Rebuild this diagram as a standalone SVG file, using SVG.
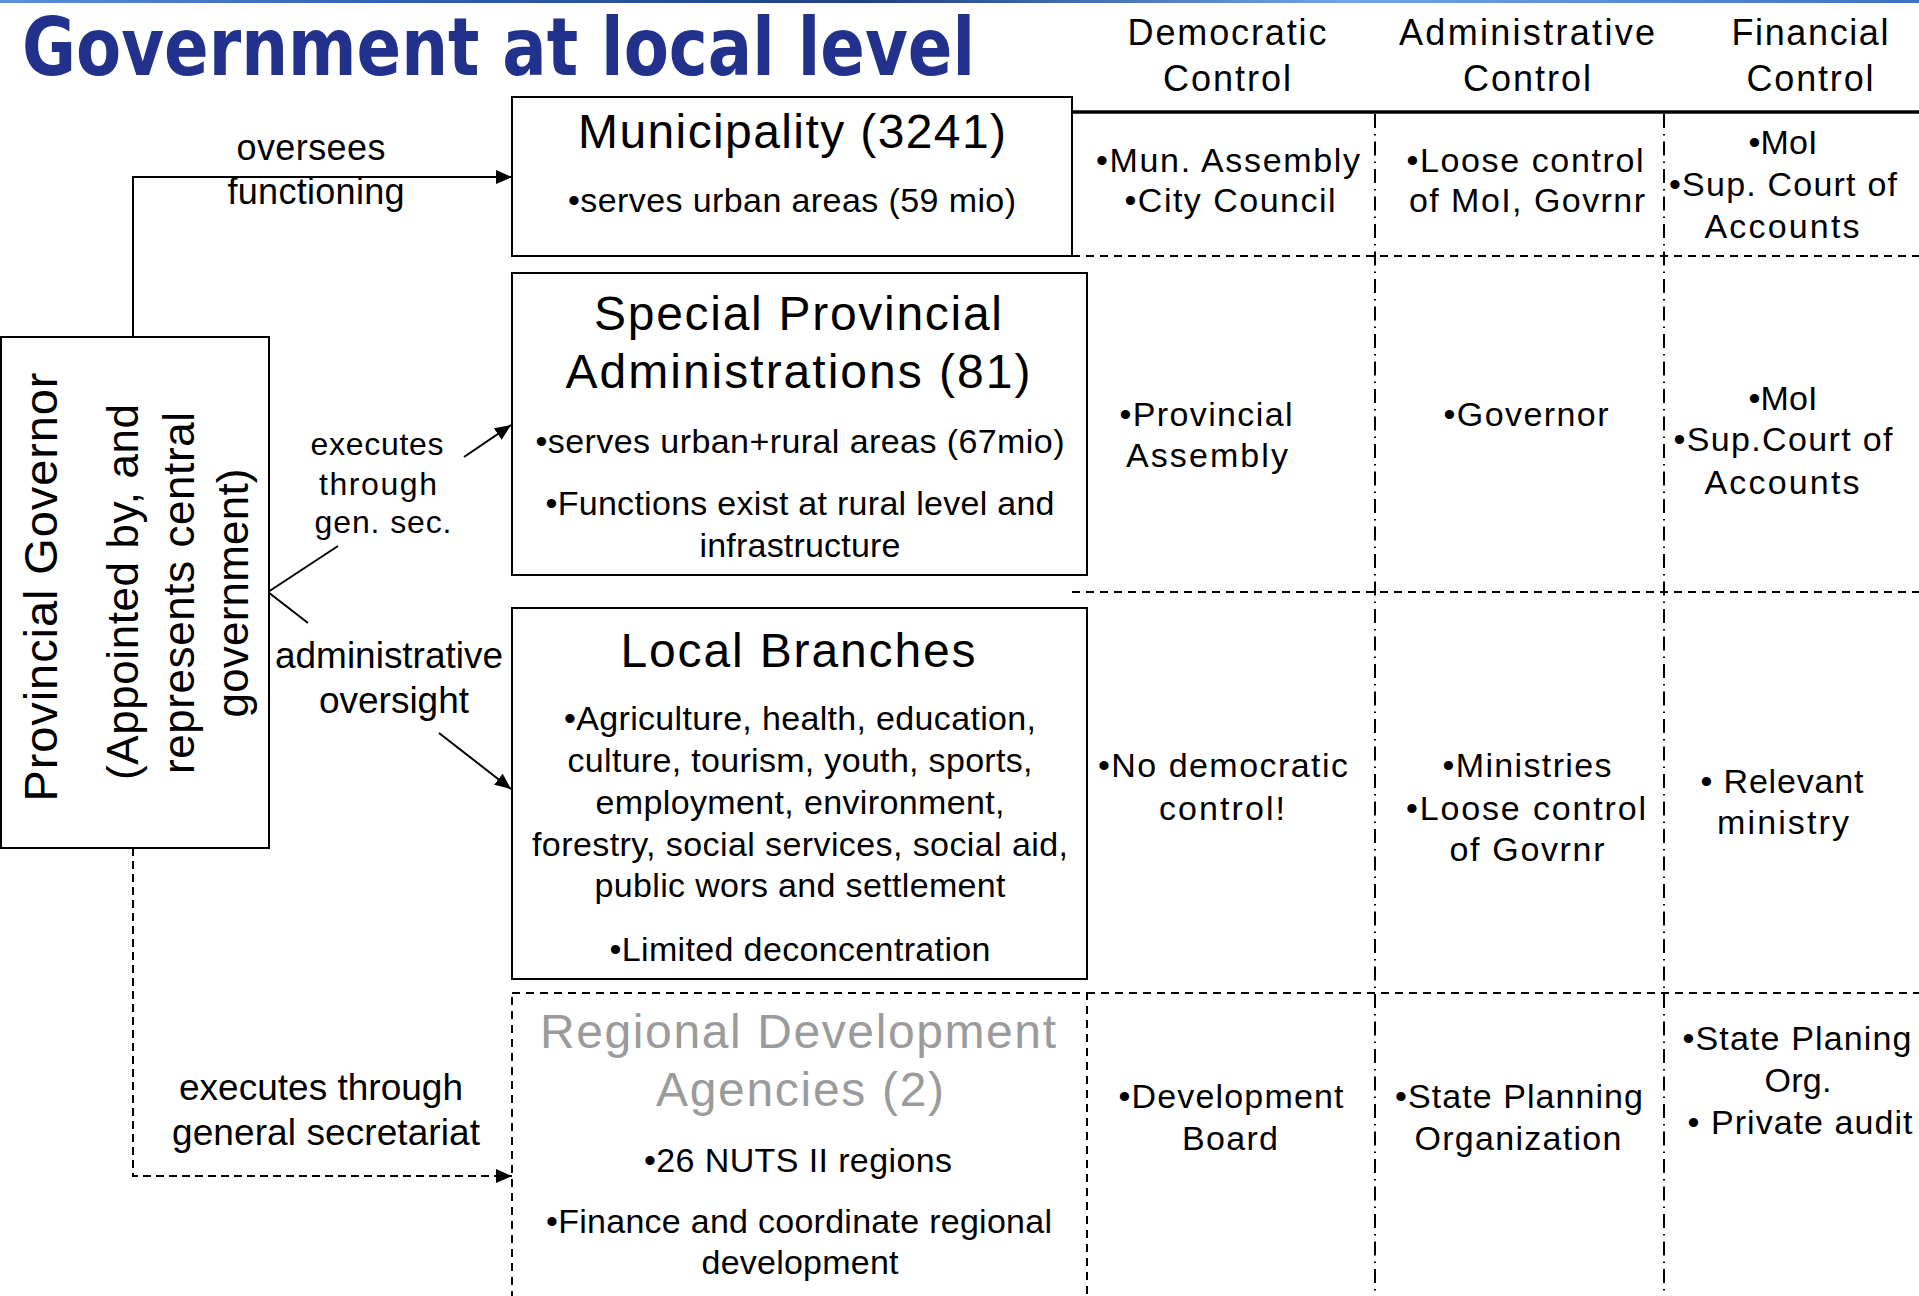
<svg xmlns="http://www.w3.org/2000/svg" width="1919" height="1296" viewBox="0 0 1919 1296">
<defs>
<linearGradient id="topbar" x1="0" y1="0" x2="1" y2="0">
<stop offset="0" stop-color="#5b8fe6"/>
<stop offset="0.2" stop-color="#2f5fc0"/>
<stop offset="0.45" stop-color="#1e3f8a"/>
<stop offset="0.7" stop-color="#6fa3f2"/>
<stop offset="1" stop-color="#3d6fcf"/>
</linearGradient>
<marker id="arr" viewBox="0 0 16 14" refX="16" refY="7" markerWidth="16" markerHeight="14" markerUnits="userSpaceOnUse" orient="auto">
<path d="M0,0 L16,7 L0,14 z" fill="#000"/>
</marker>
<style>
.t{font-family:"Liberation Sans",Arial,Helvetica,sans-serif;fill:#000;text-anchor:middle}
.hd{font-size:36px}
.h{font-size:48px}
.b{font-size:34px}
.l{font-size:36px}
.s{font-size:32px}
.g{fill:#9b9b9b}
.box{fill:#fff;stroke:#000;stroke-width:2}
.dbox{fill:none;stroke:#000;stroke-width:2;stroke-dasharray:8 6}
.conn{fill:none;stroke:#000;stroke-width:2}
.dconn{fill:none;stroke:#000;stroke-width:2;stroke-dasharray:8 5}
.hsolid{stroke:#000;stroke-width:3.5}
.hdash{stroke:#000;stroke-width:2;stroke-dasharray:8 6}
.vdash{stroke:#000;stroke-width:2;stroke-dasharray:14 6 1.5 6}
</style>
</defs>
<rect x="0" y="0" width="1919" height="1296" fill="#fff"/>
<rect x="0" y="0" width="1919" height="3" fill="url(#topbar)"/>
<text transform="translate(22,75) scale(0.8124,1)" x="0" y="0" font-family="'DejaVu Sans',Verdana,sans-serif" font-weight="bold" font-size="81" fill="#21318C" textLength="1173" lengthAdjust="spacingAndGlyphs">Government at local level</text>

<g id="table">
<line class="hsolid" x1="1072" y1="112" x2="1919" y2="112"/>
<line class="hdash" x1="1072" y1="256" x2="1919" y2="256"/>
<line class="hdash" x1="1072" y1="592" x2="1919" y2="592"/>
<line class="hdash" x1="1087" y1="993" x2="1919" y2="993"/>
<line class="vdash" x1="1375" y1="114" x2="1375" y2="1296"/>
<line class="vdash" x1="1664" y1="114" x2="1664" y2="1296"/>
<g id="headers" class="t hd">
<text x="1227" y="45" textLength="199">Democratic</text>
<text x="1227" y="91" textLength="128">Control</text>
<text x="1527" y="45" textLength="256">Administrative</text>
<text x="1527" y="91" textLength="128">Control</text>
<text x="1810" y="45" textLength="157">Financial</text>
<text x="1810" y="91" textLength="127">Control</text>
</g>
<g id="row-municipality" class="t b">
<text x="1228" y="172" textLength="264">•Mun. Assembly</text>
<text x="1230" y="212" textLength="211">•City Council</text>
<text x="1525" y="172" textLength="237">•Loose control</text>
<text x="1527" y="212" textLength="236">of MoI, Govrnr</text>
<text x="1783" y="154" textLength="69">•MoI</text>
<text x="1783" y="196" textLength="228">•Sup. Court of</text>
<text x="1782" y="238" textLength="155">Accounts</text>
</g>
<g id="row-spa" class="t b">
<text x="1206" y="426" textLength="173">•Provincial</text>
<text x="1207" y="467" textLength="162">Assembly</text>
<text x="1526" y="426" textLength="165">•Governor</text>
<text x="1783" y="410" textLength="69">•MoI</text>
<text x="1783" y="451" textLength="219">•Sup.Court of</text>
<text x="1782" y="494" textLength="155">Accounts</text>
</g>
<g id="row-local" class="t b">
<text x="1223" y="777" textLength="250">•No democratic</text>
<text x="1222" y="820" textLength="126">control!</text>
<text x="1527" y="777" textLength="169">•Ministries</text>
<text x="1526" y="820" textLength="240">•Loose control</text>
<text x="1527" y="861" textLength="155">of Govrnr</text>
<text x="1782" y="793" textLength="163">• Relevant</text>
<text x="1783" y="834" textLength="132">ministry</text>
</g>
<g id="row-rda" class="t b">
<text x="1231" y="1108" textLength="225">•Development</text>
<text x="1230" y="1150" textLength="96">Board</text>
<text x="1519" y="1108" textLength="248">•State Planning</text>
<text x="1518" y="1150" textLength="207">Organization</text>
<text x="1797" y="1050" textLength="229">•State Planing</text>
<text x="1798" y="1092" textLength="67">Org.</text>
<text x="1800" y="1134" textLength="225">• Private audit</text>
</g>
</g>

<g id="connectors">
<path class="conn" d="M133,337 V177 H512" marker-end="url(#arr)"/>
<path class="conn" d="M268,592 L338,546 M464,457 L511,425" marker-end="url(#arr)"/>
<path class="conn" d="M268,592 L308,623 M439,733 L511,789" marker-end="url(#arr)"/>
<path class="dconn" d="M133,848 V1176 H512" marker-end="url(#arr)"/>
<g class="t l">
<text x="311" y="160" textLength="149">oversees</text>
<text x="316" y="204" textLength="177">functioning</text>
<text x="389" y="668" textLength="228" font-size="37">administrative</text>
<text x="394" y="713" textLength="150" font-size="37">oversight</text>
<text x="321" y="1100" textLength="284" font-size="37">executes through</text>
<text x="326" y="1145" textLength="308" font-size="37">general secretariat</text>
</g>
<g class="t s">
<text x="377" y="455" textLength="133">executes</text>
<text x="378" y="495" textLength="118">through</text>
<text x="383" y="533" textLength="137">gen. sec.</text>
</g>
</g>

<g id="governor">
<rect class="box" x="1" y="337" width="268" height="511"/>
<g class="t">
<text transform="translate(57,587) rotate(-90)" font-size="47" textLength="429">Provincial Governor</text>
<text transform="translate(138,592) rotate(-90)" font-size="44" textLength="376">(Appointed by, and</text>
<text transform="translate(194,593) rotate(-90)" font-size="44" textLength="362">represents central</text>
<text transform="translate(248,593) rotate(-90)" font-size="44" textLength="249">government)</text>
</g>
</g>

<g id="municipality">
<rect class="box" x="512" y="97" width="560" height="159"/>
<text class="t h" x="792" y="148" textLength="428">Municipality (3241)</text>
<text class="t b" x="792" y="212" textLength="448">•serves urban areas (59 mio)</text>
</g>

<g id="special-provincial">
<rect class="box" x="512" y="273" width="575" height="302"/>
<text class="t h" x="798" y="330" textLength="408">Special Provincial</text>
<text class="t h" x="798" y="388" textLength="465">Administrations (81)</text>
<text class="t b" x="800" y="453" textLength="529">•serves urban+rural areas (67mio)</text>
<text class="t b" x="800" y="515" textLength="509">•Functions exist at rural level and</text>
<text class="t b" x="800" y="557" textLength="201">infrastructure</text>
</g>

<g id="local-branches">
<rect class="box" x="512" y="608" width="575" height="371"/>
<text class="t h" x="798" y="667" textLength="355">Local Branches</text>
<text class="t b" x="800" y="730" textLength="472">•Agriculture, health, education,</text>
<text class="t b" x="800" y="772" textLength="465">culture, tourism, youth, sports,</text>
<text class="t b" x="800" y="814" textLength="409">employment, environment,</text>
<text class="t b" x="800" y="856" textLength="536">forestry, social services, social aid,</text>
<text class="t b" x="800" y="897" textLength="411">public wors and settlement</text>
<text class="t b" x="800" y="961" textLength="381">•Limited deconcentration</text>
</g>

<g id="regional-development">
<rect class="dbox" x="512" y="993" width="575" height="320"/>
<text class="t h g" x="798" y="1048" textLength="516">Regional Development</text>
<text class="t h g" x="800" y="1106" textLength="288">Agencies (2)</text>
<text class="t b" x="798" y="1172" textLength="308">•26 NUTS II regions</text>
<text class="t b" x="799" y="1233" textLength="506">•Finance and coordinate regional</text>
<text class="t b" x="800" y="1274" textLength="197">development</text>
</g>
</svg>
